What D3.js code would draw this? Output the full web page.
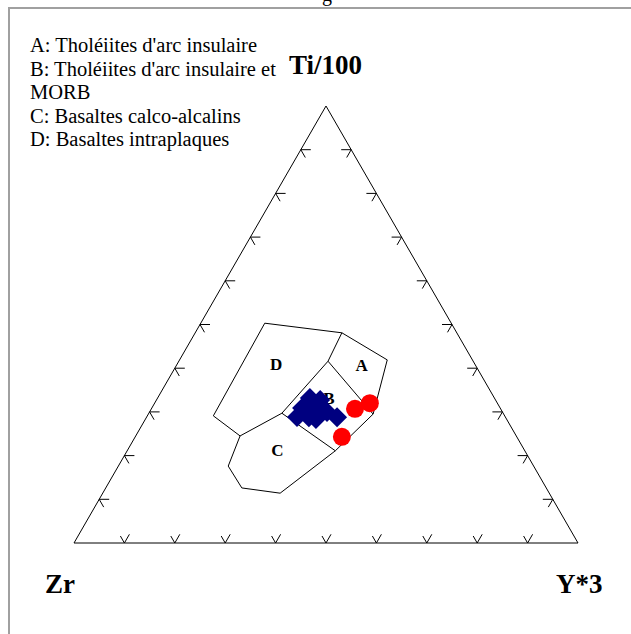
<!DOCTYPE html>
<html>
<head>
<meta charset="utf-8">
<script src="https://cdn.jsdelivr.net/npm/d3@7"></script>
<style>
  body { margin: 0; background: #fff; }
  svg { display: block; }
</style>
</head>
<body>
<div id="chart"></div>
<script>
// legend lines
var legendLines = ['A: Tholéiites d\'arc insulaire',
  'B: Tholéiites d\'arc insulaire et',
  'MORB',
  'C: Basaltes calco-alcalins',
  'D: Basaltes intraplaques'];

// apex names: top, left, right
var apexNames = ['Ti/100', 'Zr', 'Y*3'];

// field boundary points, [Ti, Zr, Y] in %
var outline = [[50.3, 37.0, 12.7], [48.1, 22.8, 29.1], [41.9, 16.9, 41.2],
  [29.5, 25.9, 44.6], [21.1, 37.6, 41.3], [11.4, 53.4, 35.2],
  [12.6, 60.4, 27.0], [17.6, 60.6, 21.8], [24.5, 54.8, 20.7],
  [29.1, 57.8, 13.1], [50.3, 37.0, 12.7]];
var lineAD = [[48.1, 22.8, 29.1], [41.6, 28.8, 29.6]];
var lineBD = [[41.6, 28.8, 29.6], [29.7, 43.9, 26.4], [24.5, 54.8, 20.7]];
var lineAB = [[41.6, 28.8, 29.6], [29.5, 25.9, 44.6]];
var lineBC = [[29.7, 43.9, 26.4], [21.1, 37.6, 41.3]];

var fieldNames = ['A', 'B', 'C', 'D'];
var fieldTi = [40.7, 33.2, 21.3, 41.0];
var fieldZr = [22.6, 32.8, 49.0, 39.4];
var fieldY = [36.7, 34.0, 29.7, 19.6];

// samples
var blueTi = [33.2, 30.9, 28.8, 28.8, 30.7, 30.0, 28.8, 32.7, 28.4];
var blueZr = [36.6, 39.3, 41.3, 39.0, 36.3, 34.8, 33.4, 34.8, 37.8];
var blueY = [30.2, 29.8, 29.8, 32.2, 33.1, 35.2, 37.8, 32.5, 33.8];

var redTi = [30.7, 32.0, 24.3];
var redZr = [28.9, 25.3, 34.7];
var redY = [40.4, 42.7, 41.0];

var ticks = [10, 20, 30, 40, 50, 60, 70, 80, 90];

var w = 631, h = 634;
var svg = d3.select('#chart').append('svg')
  .attr('width', w)
  .attr('height', h);

svg.append('rect').attr('width', w).attr('height', h).attr('fill', '#fff');

// frame (cropped window look)
svg.append('path')
  .attr('d', 'M9,634 V8 H631')
  .attr('fill', 'none')
  .attr('stroke', '#a0a0a0')
  .attr('stroke-width', 2);
svg.append('text')
  .attr('x', 322).attr('y', 1)
  .attr('font-family', 'Liberation Serif, serif')
  .attr('font-size', 20)
  .text('g');

var xs = d3.scaleLinear().domain([0, 100]).range([74, 578]);
var ys = d3.scaleLinear().domain([0, 100]).range([543, 106]);

function pt(ti, zr, y) {
  var s = ti + zr + y;
  ti = ti / s * 100; y = y / s * 100;
  return [xs(y + ti / 2), ys(ti)];
}
function pa(a) { return pt(a[0], a[1], a[2]); }

var line = d3.line();
var g = svg.append('g')
  .attr('fill', 'none')
  .attr('stroke', '#000')
  .attr('stroke-width', 1);

// triangle
g.append('path')
  .attr('d', line([pt(100, 0, 0), pt(0, 100, 0), pt(0, 0, 100)]) + 'Z');

// ticks
ticks.forEach(function(t) {
  var p = pt(t, 100 - t, 0); // left edge
  g.append('path').attr('d', line([[p[0] + 10, p[1]], p, [p[0] + 4.5, p[1] + 7.8]]));
  var q = pt(t, 0, 100 - t); // right edge
  g.append('path').attr('d', line([[q[0] - 10, q[1]], q, [q[0] - 4.5, q[1] + 7.8]]));
  var b = pt(0, 100 - t, t); // base
  g.append('path').attr('d', line([[b[0] - 4, b[1] - 7], b, [b[0] + 5, b[1] - 8.7]]));
});

// fields
[outline, lineAD, lineBD, lineAB, lineBC].forEach(function(l) {
  g.append('path').attr('d', line(l.map(pa)));
});

svg.selectAll('text.field')
  .data(fieldNames)
  .enter()
  .append('text')
  .attr('class', 'field')
  .attr('x', function(d, i) { return pt(fieldTi[i], fieldZr[i], fieldY[i])[0]; })
  .attr('y', function(d, i) { return pt(fieldTi[i], fieldZr[i], fieldY[i])[1] + 6; })
  .attr('text-anchor', 'middle')
  .attr('font-family', 'Liberation Serif, serif')
  .attr('font-weight', 'bold')
  .attr('font-size', 17)
  .text(function(d) { return d; });

svg.selectAll('path.blue')
  .data(blueTi)
  .enter()
  .append('path')
  .attr('class', 'blue')
  .attr('d', d3.symbol().type(d3.symbolSquare).size(200))
  .attr('transform', function(d, i) {
    var p = pt(blueTi[i], blueZr[i], blueY[i]);
    return 'translate(' + p[0] + ',' + p[1] + ') rotate(45)';
  })
  .attr('fill', '#000080');

svg.selectAll('circle.red')
  .data(redTi)
  .enter()
  .append('circle')
  .attr('class', 'red')
  .attr('cx', function(d, i) { return pt(redTi[i], redZr[i], redY[i])[0]; })
  .attr('cy', function(d, i) { return pt(redTi[i], redZr[i], redY[i])[1]; })
  .attr('r', 9)
  .attr('fill', '#ff0000');

// apex labels
var apexPos = [[289, 74], [45, 593], [556, 593]];
svg.selectAll('text.apex')
  .data(apexNames)
  .enter()
  .append('text')
  .attr('class', 'apex')
  .attr('x', function(d, i) { return apexPos[i][0]; })
  .attr('y', function(d, i) { return apexPos[i][1]; })
  .attr('font-family', 'Liberation Serif, serif')
  .attr('font-weight', 'bold')
  .attr('font-size', 27)
  .text(function(d) { return d; });

// legend
svg.selectAll('text.legend')
  .data(legendLines)
  .enter()
  .append('text')
  .attr('class', 'legend')
  .attr('x', 30)
  .attr('y', function(d, i) { return 52 + i * 23.5; })
  .attr('font-family', 'Liberation Serif, serif')
  .attr('font-size', 20.5)
  .text(function(d) { return d; });
</script>
</body>
</html>
